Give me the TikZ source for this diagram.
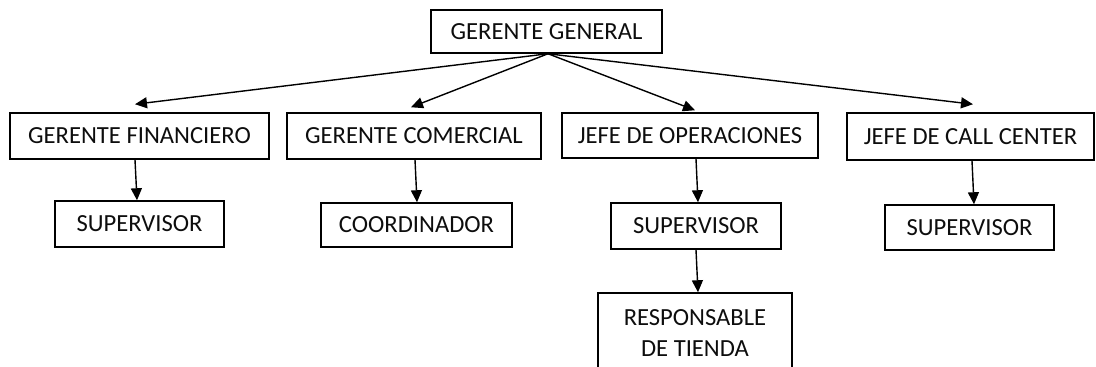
\documentclass[tikz,border=0pt]{standalone}
\usepackage{fontspec}
\setmainfont{Carlito}
\usetikzlibrary{arrows.meta}
\begin{document}
\begin{tikzpicture}[x=1pt,y=-1pt,
  box/.style={draw, line width=1.5pt, inner sep=0pt, align=center,
    font=\fontsize{24.6}{31}\selectfont, text=black!95},
  arr/.style={-{Triangle[length=12pt,width=11pt]}, line width=1.4pt}]
\useasboundingbox (0,0) rectangle (1096,367);
\clip (0,0) rectangle (1096,367);
\node[box, minimum width=231pt, minimum height=43pt] (gg) at (546.5,31.5) {GERENTE GENERAL};
\node[box, minimum width=259pt, minimum height=46pt] (gf) at (139.5,136) {GERENTE FINANCIERO};
\node[box, minimum width=254pt, minimum height=46pt] (gc) at (414,136) {GERENTE COMERCIAL};
\node[box, minimum width=256pt, minimum height=45pt] (jo) at (690,135.5) {JEFE DE OPERACIONES};
\node[box, minimum width=247pt, minimum height=47pt] (jc) at (970.5,136.5) {JEFE DE CALL CENTER};
\node[box, minimum width=169pt, minimum height=46pt] (s1) at (139.5,224) {SUPERVISOR};
\node[box, minimum width=191pt, minimum height=44pt] (co) at (416.5,225) {COORDINADOR};
\node[box, minimum width=170pt, minimum height=46pt] (s2) at (696,226) {SUPERVISOR};
\node[box, minimum width=194pt, minimum height=80pt] (rt) at (695,333) {RESPONSABLE\\DE TIENDA};
\node[box, minimum width=169pt, minimum height=45pt] (s4) at (969.5,227.5) {SUPERVISOR};
\draw[arr] ([xshift=1.5pt]gg.south) -- ([xshift=-4.5pt,yshift=8pt]gf.north);
\draw[arr] ([xshift=1.5pt]gg.south) -- ([xshift=-3pt,yshift=5pt]gc.north);
\draw[arr] ([xshift=1.5pt]gg.south) -- ([xshift=5pt,yshift=2pt]jo.north);
\draw[arr] ([xshift=1.5pt]gg.south) -- ([xshift=2.5pt,yshift=8pt]jc.north);
\draw[arr] ([xshift=-4.5pt]gf.south) -- ([xshift=-2.5pt]s1.north);
\draw[arr] ([xshift=1pt]gc.south) -- ([xshift=0.5pt]co.north);
\draw[arr] ([xshift=6pt]jo.south) -- ([xshift=2pt]s2.north);
\draw[arr] (s2.south) -- ([xshift=3pt]rt.north);
\draw[arr] ([xshift=1.5pt]jc.south) -- ([xshift=4.5pt]s4.north);
\end{tikzpicture}
\end{document}
